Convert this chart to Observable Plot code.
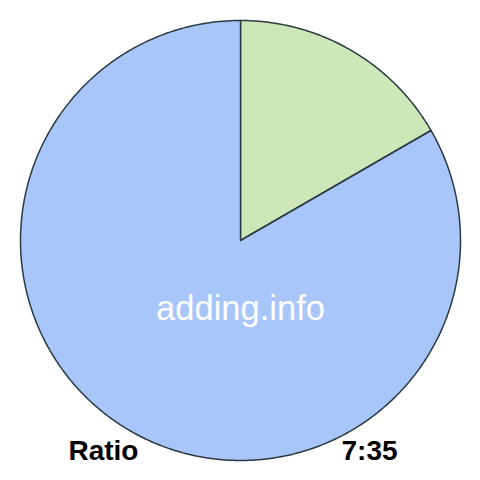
<!DOCTYPE html>
<html>
<head>
<meta charset="utf-8">
<script src="https://cdn.jsdelivr.net/npm/d3@7"></script>
<script src="https://cdn.jsdelivr.net/npm/@observablehq/plot@0.6"></script>
<style>
html,body{margin:0;padding:0;background:#fff;}
</style>
</head>
<body>
<div id="chart"></div>
<script>
const categories = ["first", "second"];
const values = [7, 35];
const colors = ["#cde7b9", "#a9c6fa"];
const watermark = "adding.info";
const leftLabel = "Ratio";
const rightLabel = values.join(":");

const pie = d3.pie().sort(null).value(d => d.value)(
  categories.map((c, i) => ({ category: c, value: values[i] }))
);
const pts = [];
pie.forEach(s => {
  const n = Math.max(2, Math.ceil((s.endAngle - s.startAngle) / 0.01));
  pts.push({ category: s.data.category, x: 0, y: 0 });
  for (let k = 0; k <= n; k++) {
    const a = s.startAngle + (s.endAngle - s.startAngle) * k / n;
    pts.push({ category: s.data.category, x: Math.sin(a), y: Math.cos(a) });
  }
  pts.push({ category: s.data.category, x: 0, y: 0 });
});

const chart = Plot.plot({
  width: 480,
  height: 480,
  margin: 20,
  x: { domain: [-1, 1], axis: null },
  y: { domain: [-1, 1], axis: null },
  color: { domain: categories, range: colors },
  style: { fontFamily: "Liberation Sans, Arial, sans-serif", background: "#fff" },
  marks: [
    Plot.line(pts, { x: "x", y: "y", z: "category", fill: "category", stroke: "#2b3a40", strokeWidth: 1.5, strokeLinejoin: "round", curve: "linear" }),
    Plot.text([watermark], { x: [0], y: [-0.31], text: d => d, fill: "#ffffff", fontSize: 34.5 }),
    Plot.text([leftLabel], { x: [-0.782], y: [-0.955], text: d => d, textAnchor: "start", fontSize: 28, fontWeight: "bold", fill: "#000" }),
    Plot.text([rightLabel], { x: [0.714], y: [-0.955], text: d => d, textAnchor: "end", fontSize: 28, fontWeight: "bold", fill: "#000" })
  ]
});
document.getElementById("chart").appendChild(chart);
</script>
</body>
</html>
